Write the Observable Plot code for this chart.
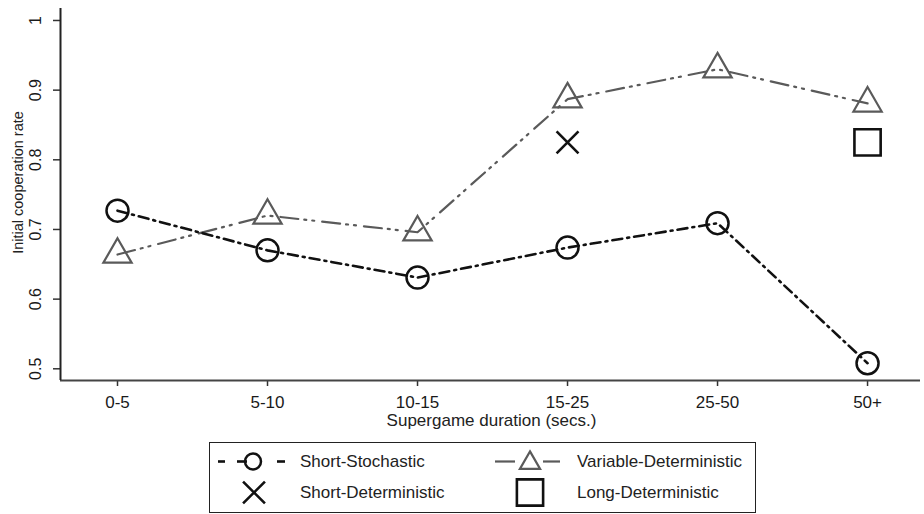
<!DOCTYPE html>
<html>
<head>
<meta charset="utf-8">
<script src="https://cdn.jsdelivr.net/npm/d3@7"></script>
<script src="https://cdn.jsdelivr.net/npm/@observablehq/plot@0.6"></script>
<style>
  html, body { margin: 0; padding: 0; background: #fff; }
  #wrap { position: relative; width: 924px; height: 514px; font-family: "Liberation Sans", Arial, sans-serif; }
  #legend { position: absolute; left: 209px; top: 442px; width: 547px; height: 71px; border: 1.5px solid #222; box-sizing: border-box; }
  #legend .t { position: absolute; font-size: 17px; color: #222; line-height: 20px; white-space: nowrap; }
  #legend svg { position: absolute; left: 0; top: 0; overflow: visible; }
</style>
</head>
<body>
<div id="wrap">
  <div id="chart"></div>
  <div id="legend"></div>
</div>
<script>
const categories = ["0-5", "5-10", "10-15", "15-25", "25-50", "50+"];
const shortStochastic = [0.727, 0.670, 0.631, 0.674, 0.709, 0.508];
const variableDeterministic = [0.664, 0.720, 0.696, 0.887, 0.930, 0.881];
const shortDeterministicCats = ["15-25"];
const shortDeterministicVals = [0.825];
const longDeterministicCats = ["50+"];
const longDeterministicVals = [0.825];
const yTicks = [0.5, 0.6, 0.7, 0.8, 0.9, 1];
const seriesNames = ["Short-Stochastic", "Variable-Deterministic", "Short-Deterministic", "Long-Deterministic"];
const xTitle = "Supergame duration (secs.)";
const yTitle = "Initial cooperation rate";

const ss = categories.map((c, i) => ({x: i, y: shortStochastic[i]}));
const vd = categories.map((c, i) => ({x: i, y: variableDeterministic[i]}));
const sd = shortDeterministicCats.map((c, i) => ({x: categories.indexOf(c), y: shortDeterministicVals[i]}));
const ld = longDeterministicCats.map((c, i) => ({x: categories.indexOf(c), y: longDeterministicVals[i]}));

const xMin = -0.38, xMax = 5.353, yMin = 0.4832, yMax = 1.0172;
const black = "#111", gray = "#5a5a5a";
const font = "'Liberation Sans', Arial, sans-serif";

const chart = Plot.plot({
  width: 924,
  height: 436,
  marginLeft: 60,
  marginRight: 4,
  marginTop: 8,
  marginBottom: 56,
  style: {fontFamily: font, fontSize: "16px", color: "#222", background: "#fff"},
  x: {type: "linear", domain: [xMin, xMax]},
  y: {domain: [yMin, yMax]},
  marks: [
    Plot.axisX({ticks: d3.range(categories.length), tickFormat: i => categories[i], tickSize: 6, tickPadding: 9, stroke: "#333", strokeWidth: 1.5, label: null, fontSize: 17, fill: "#1a1a1a"}),
    Plot.axisY({ticks: yTicks, tickFormat: d => String(d), tickSize: 7, tickPadding: 13, tickRotate: -90, stroke: "#333", strokeWidth: 1.5, label: null, fontSize: 16, fill: "#1a1a1a"}),
    Plot.text([yTitle], {frameAnchor: "left", textAnchor: "middle", rotate: -90, dx: -42, dy: -12, fontSize: 14.5, fill: "#222"}),
    Plot.text([xTitle], {frameAnchor: "bottom", textAnchor: "middle", lineAnchor: "bottom", dy: 45, dx: 1, fontSize: 17, fill: "#222"}),
    Plot.ruleY([yMin], {stroke: "#444", strokeWidth: 2.2}),
    Plot.ruleX([xMin], {stroke: "#222", strokeWidth: 2}),
    Plot.line(vd, {x: "x", y: "y", stroke: gray, strokeWidth: 2.2, strokeDasharray: "18,6,2,6,2,8"}),
    Plot.line(ss, {x: "x", y: "y", stroke: black, strokeWidth: 2.6, strokeDasharray: "10,5,2,5"}),
    Plot.dot(vd, {x: "x", y: "y", symbol: "triangle", r: 10.5, stroke: gray, strokeWidth: 2.2, fill: "none"}),
    Plot.dot(ss, {x: "x", y: "y", symbol: "circle", r: 11, stroke: black, strokeWidth: 2.5, fill: "none"}),
    Plot.dot(sd, {x: "x", y: "y", symbol: "times", r: 10, stroke: black, strokeWidth: 2.6}),
    Plot.dot(ld, {x: "x", y: "y", symbol: "square", r: 14.8, stroke: black, strokeWidth: 2.6, fill: "none"})
  ]
});
document.getElementById("chart").appendChild(chart);

// Legend
const legend = document.getElementById("legend");
const ns = "http://www.w3.org/2000/svg";
const svg = document.createElementNS(ns, "svg");
svg.setAttribute("width", 547); svg.setAttribute("height", 71);
function el(tag, attrs) { const e = document.createElementNS(ns, tag); for (const k in attrs) e.setAttribute(k, attrs[k]); svg.appendChild(e); return e; }
const r1 = 18.5, r2 = 49.5;
[[8, 15], [27, 37], [67, 75]].forEach(([a, b]) => el("line", {x1: a, x2: b, y1: r1, y2: r1, stroke: black, "stroke-width": 2.6}));
el("circle", {cx: 43, cy: r1, r: 8, fill: "none", stroke: black, "stroke-width": 2.5});
[[285, 305], [333, 350]].forEach(([a, b]) => el("line", {x1: a, x2: b, y1: r1, y2: r1, stroke: gray, "stroke-width": 2.2}));
el("path", {d: d3.symbol(d3.symbolTriangle, Math.PI * 7.5 * 7.5)(), transform: `translate(320,${r1 + 1.5})`, fill: "none", stroke: gray, "stroke-width": 2.2});
el("path", {d: d3.symbol(d3.symbolTimes, Math.PI * 10 * 10)(), transform: `translate(44,${r2})`, fill: "none", stroke: black, "stroke-width": 2.6});
el("path", {d: d3.symbol(d3.symbolSquare, Math.PI * 14.8 * 14.8)(), transform: `translate(320,${r2})`, fill: "none", stroke: black, "stroke-width": 2.6});
legend.appendChild(svg);
[[seriesNames[0], 90, r1], [seriesNames[1], 367, r1], [seriesNames[2], 90, r2], [seriesNames[3], 367, r2]].forEach(([txt, x, y]) => {
  const s = document.createElement("span");
  s.className = "t"; s.textContent = txt;
  s.style.left = x + "px"; s.style.top = (y - 10) + "px";
  legend.appendChild(s);
});
</script>
</body>
</html>
